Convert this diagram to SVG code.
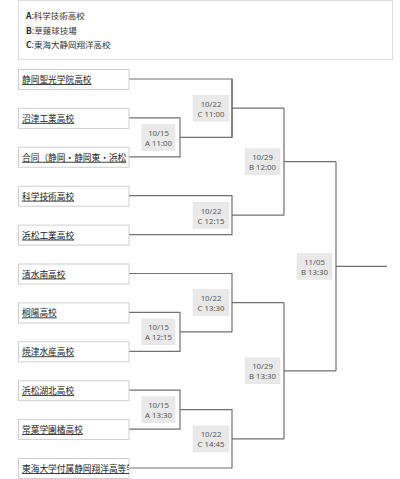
<svg xmlns="http://www.w3.org/2000/svg" width="400" height="479" viewBox="0 0 400 479">
<style>
.bg{fill:#fff}
.legend{fill:#fff;stroke:#dcdcdc;stroke-width:1}
.lt{font-family:"Noto Sans CJK JP","Noto Sans",sans-serif;font-size:8.5px;fill:#333}
.lk{font-weight:bold;fill:#222}
.team rect{fill:#fff;stroke:#cfcfcf;stroke-width:1}
.team text{font-family:"Noto Sans CJK JP",sans-serif;font-size:8.7px;fill:#222;text-decoration:underline}
.m rect{fill:#e9e9e9;stroke:#e2e2e2;stroke-width:0.5}
.m text{font-family:"Noto Sans","Noto Sans CJK JP",sans-serif;font-size:7.8px;fill:#555;text-anchor:middle}
.c path{fill:none;stroke:#707070;stroke-width:1.2}
</style>
<defs>
<clipPath id="tc"><rect x="18" y="0" width="111" height="479"/></clipPath>
</defs>
<rect class="bg" x="0" y="0" width="400" height="479"/>
<g id="legend">
<rect class="legend" x="18.5" y="0.5" width="374" height="59"/>
<text class="lt" x="26" y="18.5"><tspan class="lk">A</tspan>:科学技術高校</text>
<text class="lt" x="26" y="33.5"><tspan class="lk">B</tspan>:草薙球技場</text>
<text class="lt" x="26" y="47.5"><tspan class="lk">C</tspan>:東海大静岡翔洋高校</text>
</g>
<g id="connectors" class="c">
<path d="M129 79H232V137.4M129 117.9H180V156.8H129M180 137.4H232"/>
<path d="M232 79V137.4M232 108.2H284"/>
<path d="M129 195.7H232V234.6H129M232 215.2H284"/>
<path d="M284 108.2V215.2M284 161.7H336"/>
<path d="M129 273.5H232V331.9M129 312.4H180V351.3H129M180 331.9H232M232 302.7H284"/>
<path d="M129 390.2H180V429.1H129M180 409.7H232V468H129M232 438.9H284"/>
<path d="M284 302.7V438.9M284 370.8H336"/>
<path d="M336 161.7V370.8M336 266.3H387"/>
</g>
<g id="t1" class="team"><rect x="18.5" y="69.5" width="110.5" height="20"/><text x="22" y="83">静岡聖光学院高校</text></g>
<g id="t2" class="team"><rect x="18.5" y="108.4" width="110.5" height="20"/><text x="22" y="121.9">沼津工業高校</text></g>
<g id="t3" class="team"><rect x="18.5" y="147.3" width="110.5" height="20"/><text x="22" y="160.8" clip-path="url(#tc)">合同（静岡・静岡東・浜松</text></g>
<g id="t4" class="team"><rect x="18.5" y="186.2" width="110.5" height="20"/><text x="22" y="199.7">科学技術高校</text></g>
<g id="t5" class="team"><rect x="18.5" y="225.1" width="110.5" height="20"/><text x="22" y="238.6">浜松工業高校</text></g>
<g id="t6" class="team"><rect x="18.5" y="264" width="110.5" height="20"/><text x="22" y="277.5">清水南高校</text></g>
<g id="t7" class="team"><rect x="18.5" y="302.9" width="110.5" height="20"/><text x="22" y="316.4">桐陽高校</text></g>
<g id="t8" class="team"><rect x="18.5" y="341.8" width="110.5" height="20"/><text x="22" y="355.3">焼津水産高校</text></g>
<g id="t9" class="team"><rect x="18.5" y="380.7" width="110.5" height="20"/><text x="22" y="394.2">浜松湖北高校</text></g>
<g id="t10" class="team"><rect x="18.5" y="419.6" width="110.5" height="20"/><text x="22" y="433.1">常葉学園橘高校</text></g>
<g id="t11" class="team"><rect x="18.5" y="458.5" width="110.5" height="20"/><text x="22" y="472" clip-path="url(#tc)">東海大学付属静岡翔洋高等学</text></g>
<g id="m1" class="m"><rect x="142" y="124.4" width="33" height="26"/><text x="158.5" y="135.8">10/15</text><text x="158.5" y="145.8">A 11:00</text></g>
<g id="m2" class="m"><rect x="142" y="318.9" width="33" height="26"/><text x="158.5" y="330.3">10/15</text><text x="158.5" y="340.3">A 12:15</text></g>
<g id="m3" class="m"><rect x="142" y="396.7" width="33" height="26"/><text x="158.5" y="408.1">10/15</text><text x="158.5" y="418.1">A 13:30</text></g>
<g id="m4" class="m"><rect x="193" y="95.2" width="36" height="26"/><text x="211" y="106.6">10/22</text><text x="211" y="116.6">C 11:00</text></g>
<g id="m5" class="m"><rect x="193" y="202.2" width="36" height="26"/><text x="211" y="213.6">10/22</text><text x="211" y="223.6">C 12:15</text></g>
<g id="m6" class="m"><rect x="193" y="289.7" width="36" height="26"/><text x="211" y="301.1">10/22</text><text x="211" y="311.1">C 13:30</text></g>
<g id="m7" class="m"><rect x="193" y="425.9" width="36" height="26"/><text x="211" y="437.3">10/22</text><text x="211" y="447.3">C 14:45</text></g>
<g id="m8" class="m"><rect x="245" y="148.7" width="35" height="26"/><text x="262.5" y="160.1">10/29</text><text x="262.5" y="170.1">B 12:00</text></g>
<g id="m9" class="m"><rect x="245" y="357.8" width="35" height="26"/><text x="262.5" y="369.2">10/29</text><text x="262.5" y="379.2">B 13:30</text></g>
<g id="m10" class="m"><rect x="297" y="253.3" width="35" height="26"/><text x="314.5" y="264.7">11/05</text><text x="314.5" y="274.7">B 13:30</text></g>
</svg>
